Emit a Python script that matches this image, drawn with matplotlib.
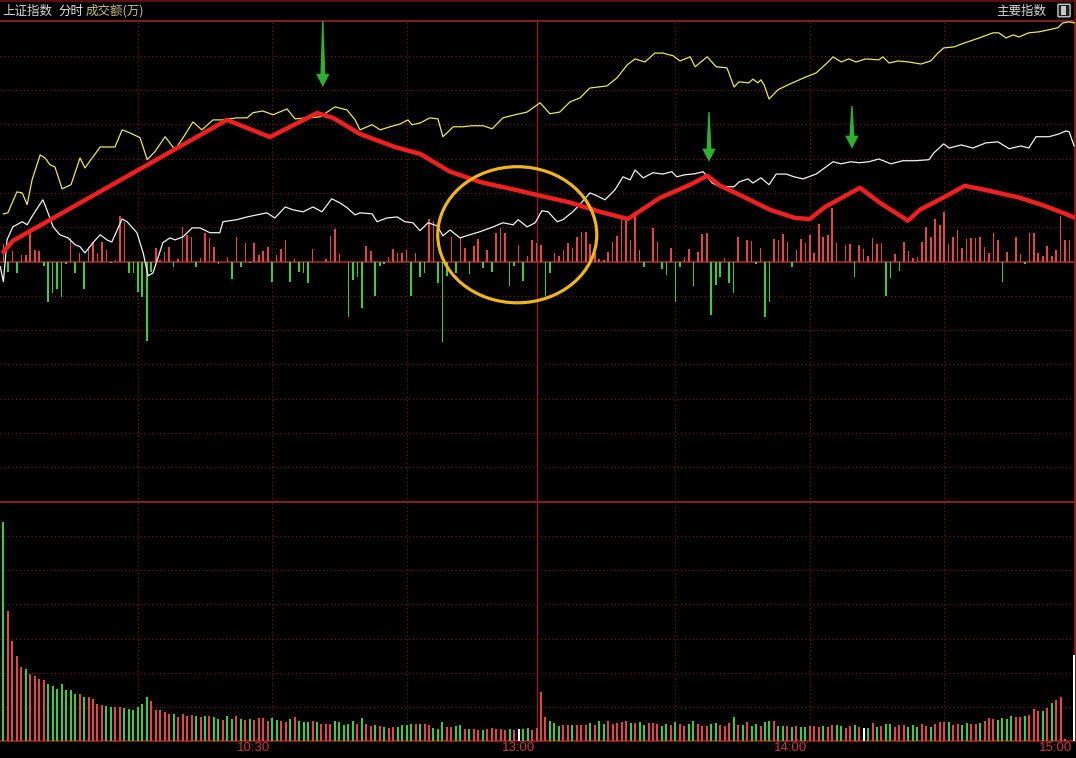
import numpy as np
import matplotlib.pyplot as plt
import matplotlib.patches as patches
from matplotlib.transforms import blended_transform_factory

W, H = 1076, 758

# one slot per trading minute, 0 = 09:30 ... 239 = 15:00
strength = [
    5.2, -3.0, 3.1, -3.3, 2.0, 2.0, 8.4, 3.4, 3.1, -1.3,
    -11.8, -9.1, -7.9, -10.3, -0.7, 6.9, -3.3, 2.5, -7.9, 4.3,
    5.7, 2.5, 5.7, 3.4, -0.4, 0.5, 13.3, 11.6, -3.3, -3.3,
    -8.8, -10.3, -23.1, -3.0, 4.0, 0.5, 2.8, 4.3, -1.5, 0.8,
    10.1, 7.8, 7.2, -1.5, 1.1, 8.4, 6.9, 4.3, -0.7, 0.0,
    1.4, -5.0, 7.2, -1.5, 5.5, -0.4, 5.5, 2.0, 3.1, 4.3,
    -5.9, 2.0, 3.7, 6.3, -5.9, 0.8, -3.0, -3.3, -6.2, 3.7,
    0.0, 0.0, 0.8, 7.5, 9.5, 2.2, 0.0, -16.1, -5.3, -4.5,
    -13.5, 4.6, 3.1, -10.0, -1.3, -0.7, 1.4, 3.7, 2.5, 2.5,
    3.4, -10.0, 2.5, -4.5, -3.3, 12.4, 11.9, -6.2, -23.4, -4.2,
    7.2, -3.3, 6.9, 4.0, -3.6, 4.6, 6.6, -1.8, 3.4, -3.0,
    8.4, 9.8, 8.4, -7.1, -1.3, 4.9, -5.6, 1.7, 6.3, 5.5,
    4.9, -10.0, -3.3, 2.5, 1.7, 3.4, 5.5, 4.0, 7.2, 8.7,
    8.7, 5.2, 2.5, 0.8, 0.5, 2.8, 5.7, 7.5, 12.4, 12.2,
    6.3, 14.5, 3.4, -1.5, 0.0, 9.8, 5.7, -2.1, -3.9, 4.0,
    -11.8, -1.5, 1.4, 3.7, -7.1, 2.8, 8.1, 8.4, -15.5, -6.8,
    -4.5, 1.1, -6.2, -9.1, 7.2, 0.0, 6.3, 6.0, -0.7, 4.0,
    -16.1, -11.8, 6.6, 6.3, 8.1, 5.7, -1.5, 3.4, 6.6, 5.5,
    7.8, 2.5, 11.0, 7.2, 7.8, 15.7, 5.5, 0.0, 4.9, 5.2,
    -4.5, 4.9, 3.7, 1.7, 6.9, 5.2, 5.5, -10.0, -4.8, 2.2,
    -2.7, 5.7, 3.1, 1.1, 1.4, 5.7, 10.1, 7.2, 12.4, 10.7,
    14.5, 5.2, 7.2, 9.2, 4.0, 6.6, 6.9, 6.9, 7.2, 4.3,
    2.5, 8.4, 6.3, -5.9, 2.8, 0.0, 7.2, 2.2, -0.7, 8.4,
    8.4, 2.5, 1.7, 4.6, 1.7, 3.4, 13.3, 6.3, 6.3, 0.0,
]

volume = [
    64.1, 38.1, 29.3, 25.0, 21.6, 21.0, 19.6, 19.0, 18.3, 18.0,
    16.7, 16.1, 15.2, 16.7, 14.9, 14.9, 13.7, 13.7, 12.8, 12.8,
    12.3, 10.8, 10.5, 10.2, 10.0, 9.9, 9.9, 9.6, 9.3, 9.0,
    9.9, 10.8, 12.8, 11.7, 9.0, 9.0, 8.4, 7.8, 7.8, 7.0,
    7.8, 7.3, 7.5, 7.3, 7.0, 7.3, 7.3, 7.0, 6.4, 6.1,
    7.3, 6.4, 7.3, 6.4, 6.1, 6.4, 6.1, 6.7, 6.7, 5.8,
    6.7, 6.1, 5.8, 5.5, 6.4, 7.0, 5.8, 5.5, 5.5, 5.8,
    5.5, 4.9, 4.9, 4.9, 5.8, 5.5, 4.6, 4.9, 5.8, 4.9,
    6.7, 4.9, 4.3, 4.6, 4.3, 4.0, 3.7, 4.0, 4.0, 4.6,
    4.6, 4.9, 4.9, 4.9, 4.9, 4.6, 3.7, 3.4, 5.5, 4.0,
    4.0, 4.3, 4.6, 3.4, 3.4, 3.4, 3.1, 3.1, 3.4, 3.7,
    3.4, 3.4, 3.1, 3.4, 3.1, 3.4, 3.4, 3.7, 3.1, 3.7,
    14.4, 7.0, 5.8, 5.2, 4.3, 4.6, 4.6, 4.6, 4.6, 4.6,
    4.6, 5.2, 4.6, 5.8, 4.9, 5.8, 4.9, 5.2, 5.5, 5.8,
    5.2, 5.2, 5.5, 4.6, 5.2, 5.2, 4.9, 4.3, 4.9, 4.6,
    5.5, 4.9, 4.3, 4.9, 5.8, 4.9, 4.3, 4.3, 4.9, 5.2,
    4.6, 4.3, 5.2, 7.0, 4.6, 4.6, 5.5, 4.3, 4.9, 4.3,
    5.5, 5.8, 5.8, 4.3, 4.3, 4.3, 4.0, 4.3, 4.0, 4.0,
    4.3, 4.3, 4.0, 4.3, 4.0, 4.6, 4.6, 4.3, 3.7, 4.3,
    4.6, 4.0, 3.7, 3.7, 5.2, 4.0, 4.3, 4.9, 4.9, 4.0,
    4.6, 4.6, 4.0, 4.6, 4.0, 4.9, 4.3, 4.0, 4.9, 5.5,
    5.5, 5.5, 4.6, 4.9, 4.6, 5.2, 4.9, 4.9, 5.2, 5.8,
    6.7, 6.4, 6.1, 6.7, 6.4, 7.3, 7.0, 7.0, 7.3, 7.5,
    9.3, 8.7, 8.7, 9.6, 11.1, 12.0, 12.8, 0.7, 0.0, 25.1,
]

# R = up minute, G = down minute, W = unchanged
vol_dir = ("GRRRRGRRRR" "GGGGGGGRGR" "RRRGGRRGGG" "GGGRRRRRGR"
           "RRRGRGRGGR" "GGRGRGRRRR" "GGRRGRGGGR" "GRRRGGGGGR"
           "GRRGRGRRGG" "GGRGRRGGGR" "RGGRGRRGRR" "RRRGRWGGRR"
           "RRGGGRRGRR" "RGRGGRRRRR" "GRGGRRRGGR" "GRRGGRRRGG"
           "RRRGRGRGGR" "GGRGGRGRGG" "RRRGRRGGRR" "GRWGRGRGGR"
           "RRGGGRRGRR" "RGRRGGRRGR" "RRGGGGRRGR" "RRGRGRRRRW")

yellow_t = [0, 1.0, 3.0, 4.2, 5.3, 6.4, 8.2, 9.3, 10.4, 11.5, 13.1, 15.1, 17.1, 18.2,
            21.6, 24.9, 26.5, 28.3, 30.5, 32.1, 33.8, 36.1, 38.3, 40.5, 42.3, 44.3,
            46.8, 48.8, 52.1, 54.4, 55.7, 57.9, 60.2, 63.3, 65.1, 67.8, 70.7, 74.0,
            76.7, 78.5, 79.6, 82.3, 84.1, 86.3, 88.5, 90.3, 91.2, 93.0, 95.2, 97.0,
            98.1, 99.0, 100.4, 102.6, 104.6, 107.1, 109.1, 111.5, 114.2, 116.9, 119.8,
            122.0, 124.2, 126.5, 128.7, 130.9, 134.7, 137.0, 139.2, 141.0, 143.2,
            145.4, 147.2, 149.5, 151.0, 153.3, 154.4, 157.1, 159.1, 161.5, 163.1,
            164.2, 166.4, 167.3, 168.4, 169.1, 169.8, 170.9, 172.9, 175.1, 178.7,
            181.4, 184.1, 185.2, 187.0, 188.7, 190.3, 192.5, 195.4, 196.3, 197.7,
            199.7, 202.1, 204.8, 207.0, 208.6, 209.9, 212.2, 214.4, 217.8, 220.9,
            222.2, 223.8, 225.4, 226.7, 228.9, 231.2, 233.4, 235.4, 236.5, 237.9, 239.0]
yellow_v = [13.9, 14.2, 20.3, 20.0, 16.6, 23.8, 31.1, 30.2, 28.2, 27.6, 21.2, 22.4, 30.2, 27.3,
            33.4, 33.4, 38.4, 37.5, 36.1, 29.7, 32.0, 36.4, 32.6, 36.9, 40.7, 38.4,
            41.3, 41.3, 41.9, 41.9, 43.4, 43.9, 42.8, 44.5, 41.6, 41.9, 42.2, 45.1,
            44.2, 41.3, 38.4, 39.9, 38.4, 39.3, 40.1, 41.3, 39.9, 40.4, 41.9, 41.6,
            36.4, 37.5, 39.3, 39.3, 39.6, 39.6, 38.7, 41.9, 42.8, 43.6, 46.3,
            43.1, 43.6, 46.6, 47.7, 50.6, 51.2, 53.6, 57.3, 59.1, 58.2,
            60.8, 60.8, 60.0, 58.5, 59.7, 56.8, 59.7, 56.8, 56.5, 50.9,
            52.4, 52.1, 53.2, 52.1, 53.0, 51.5, 47.4, 50.1, 51.5, 53.6,
            55.0, 58.2, 59.7, 58.2, 59.1, 58.2, 59.1, 58.8, 59.7, 57.9,
            58.5, 58.2, 57.6, 58.5, 60.8, 62.3, 62.6, 63.7, 65.2, 66.7,
            66.7, 65.2, 66.1, 65.5, 66.7, 67.0, 67.6, 68.2, 69.6, 69.9, 69.6]

white_t = [-0.7, 0, 0.8, 2.1, 4.2, 5.3, 6.6, 8.8, 9.7, 11.1, 12.6, 14.4, 16.0, 17.1, 18.2,
           20.0, 21.6, 23.1, 24.2, 26.5, 27.6, 29.8, 31.2, 32.3, 33.4, 35.6, 37.2, 38.3,
           40.1, 42.1, 43.9, 46.1, 48.3, 49.0, 52.1, 54.4, 56.6, 58.8, 60.6, 62.9, 64.6,
           66.9, 69.1, 71.1, 73.3, 75.1, 76.7, 78.5, 79.6, 82.3, 83.4, 85.6, 87.9, 89.6,
           91.4, 93.0, 94.8, 96.8, 98.1, 99.7, 101.9, 104.1, 106.4, 109.3, 111.5, 113.8,
           114.9, 116.9, 118.7, 120.2, 121.6, 123.6, 124.9, 127.1, 129.2, 130.9, 132.1,
           134.3, 136.5, 138.3, 139.9, 141.0, 142.8, 145.0, 147.2, 149.2, 150.3, 152.1,
           154.4, 156.2, 158.2, 160.0, 161.3, 163.1, 164.2, 166.2, 167.3, 169.1, 170.9,
           172.5, 174.7, 176.5, 178.5, 181.4, 183.6, 185.2, 187.0, 189.2, 191.0, 193.2,
           195.4, 198.1, 200.8, 203.7, 206.6, 207.7, 209.9, 211.1, 213.8, 216.4, 219.3,
           222.0, 224.5, 227.1, 228.9, 230.5, 233.4, 235.6, 237.2, 237.9, 239.0]
white_v = [-1.5, -5.9, 6.3, 10.1, 11.6, 10.7, 13.6, 18.0, 15.1, 10.1, 7.8, 6.9, 4.9, 4.3, 2.5,
           5.5, 7.8, 6.3, 5.7, 12.4, 11.6, 8.4, 2.5, -4.2, -3.3, 5.5, 6.9, 6.3,
           7.2, 9.8, 9.8, 8.4, 8.4, 11.6, 12.2, 13.0, 13.6, 14.2, 12.7, 15.9, 15.1,
           14.5, 15.9, 14.5, 18.3, 17.1, 15.7, 13.6, 14.2, 13.9, 11.6, 12.7, 13.0, 11.6,
           11.3, 9.0, 11.3, 10.4, 7.5, 9.2, 6.9, 7.8, 8.7, 10.1, 11.3, 10.7,
           12.2, 10.1, 11.3, 14.8, 14.5, 11.6, 12.2, 14.5, 17.4, 20.0, 19.4,
           18.0, 20.9, 24.7, 23.8, 26.7, 24.4, 25.9, 25.5, 26.2, 24.7, 25.3,
           25.6, 26.2, 22.9, 21.8, 21.8, 21.8, 23.2, 24.1, 22.9, 24.4, 22.4,
           25.5, 25.5, 24.7, 24.1, 25.5, 27.6, 29.1, 28.5, 29.1, 28.8, 29.1,
           29.9, 28.5, 29.4, 29.4, 29.7, 31.7, 34.3, 33.1, 34.0, 33.1, 34.6,
           34.9, 32.9, 33.7, 33.1, 36.4, 36.4, 37.2, 38.1, 37.8, 33.7]

# hand drawn markup on top of the chart
mark_t = [0, 2.1, 3.7, 49.9, 59.5, 70.0, 73.6, 79.6, 87.4, 93.0, 99.7, 106.4, 115.3,
          119.8, 126.5, 133.2, 139.4, 146.6, 153.3, 157.1, 160.0, 164.4, 171.1, 176.7,
          180.0, 183.4, 191.2, 195.7, 201.9, 204.6, 210.2, 214.6, 219.1, 226.9, 232.5,
          235.9, 239.3]
mark_v = [2.8, 6.0, 7.2, 41.3, 36.3, 43.3, 41.9, 37.2, 33.4, 31.4, 26.2, 23.2, 20.6,
          19.2, 17.2, 14.5, 12.4, 18.6, 22.4, 25.0, 22.1, 19.4, 15.1, 12.7,
          12.4, 15.9, 21.5, 17.1, 11.9, 15.1, 18.9, 22.1, 20.9, 18.6, 16.2,
          14.5, 12.7]
arrow_t = [71.3, 157.5, 189.4]
arrow_top = [70.5, 43.6, 45.4]
arrow_tip = [50.9, 29.1, 32.9]
ring_center = (114.7, 7.8)
ring_size = (35.5, 39.7)

grid_minutes = [30, 60, 90, 150, 180, 210]
noon = 119.1
time_pos = [60, 119.1, 180, 239]
time_labels = ['10:30', '13:00', '14:00', '15:00']

GRID = '#7c1a1a'
EDGE = '#8e2020'
UP = '#e04848'
DOWN = '#3ecc3e'

px_min = 4.48
x0 = -3.4 / px_min
x1 = (1075 - 3.4) / px_min

fig = plt.figure(figsize=(W / 100, H / 100), dpi=100, facecolor='black')
ax = fig.add_axes([0, (H - 502) / H, 1075 / W, (502 - 21) / H], facecolor='black')
axv = fig.add_axes([0, (H - 741) / H, 1075 / W, (741 - 502) / H], facecolor='black')

minutes = np.arange(len(strength))
s = np.array(strength)
ax.bar(minutes, s, width=0.36, color=np.where(s >= 0, UP, DOWN), linewidth=0, zorder=3)
ax.plot(yellow_t, yellow_v, color='#e8e85a', lw=0.9, zorder=4)
ax.plot(white_t, white_v, color='#f2f2f2', lw=0.9, zorder=4)
ax.plot(mark_t, mark_v, color='#ee2020', lw=3.2, solid_capstyle='round',
        solid_joinstyle='round', zorder=6)

for t, top, tip in zip(arrow_t, arrow_top, arrow_tip):
    head = tip + 3.8
    pts = [(t - 0.15, top), (t + 0.15, top), (t + 0.55, head), (t + 1.5, head),
           (t, tip), (t - 1.5, head), (t - 0.55, head)]
    ax.add_patch(patches.Polygon(pts, closed=True, fc='#2fae2f', ec='none', zorder=7))

ax.add_patch(patches.Ellipse(ring_center, ring_size[0], ring_size[1], fill=False,
                             ec='#f0b41e', lw=2.3, zorder=7))

ax.set_xlim(x0, x1)
ax.set_ylim(-70.15, 70.15)
for y in range(-60, 70, 10):
    if y != 0:
        ax.axhline(y, color=GRID, lw=0.8, ls=(0, (1, 2.5)), zorder=1)
ax.axhline(0, color=EDGE, lw=1.4, zorder=2)

cols = {'R': UP, 'G': DOWN, 'W': '#ffffff'}
axv.bar(minutes, volume, width=0.45, color=[cols[c] for c in vol_dir], linewidth=0, zorder=3)
axv.set_xlim(x0, x1)
axv.set_ylim(0, 70)
for y in range(10, 70, 10):
    axv.axhline(y, color=GRID, lw=0.8, ls=(0, (1, 2.5)), zorder=1)

for a in (ax, axv):
    for m in grid_minutes:
        a.axvline(m, color=GRID, lw=0.8, ls=(0, (1, 2.5)), zorder=1)
    a.axvline(noon, color=EDGE, lw=1.0, zorder=2)
    a.set_xticks([])
    a.set_yticks([])
    a.spines['left'].set_visible(False)
    for side in ('top', 'bottom', 'right'):
        a.spines[side].set_color(EDGE)
        a.spines[side].set_linewidth(1.3)

trans = blended_transform_factory(axv.transData, axv.transAxes)
for pos, lab in zip(time_pos, time_labels):
    axv.text(pos - 0.5, -0.03, lab, transform=trans, ha='right', va='center',
             color='#c83c3c', fontsize=9.5, family=['Liberation Sans', 'DejaVu Sans'])

# header strip
cjk = ['Noto Sans CJK SC', 'DejaVu Sans']
fig.text(2 / W, 1 - 11 / H, '上证指数', color='#d8d8d8', fontsize=9, family=cjk, va='center')
fig.text(58 / W, 1 - 11 / H, '分时', color='#e0e0e0', fontsize=9, family=cjk, va='center')
fig.text(86 / W, 1 - 11 / H, '成交额(万)', color='#c9c27a', fontsize=9, family=cjk, va='center')
fig.text(1046 / W, 1 - 11 / H, '主要指数', color='#d8d8d8', fontsize=9, family=cjk,
         va='center', ha='right')
fig.add_artist(patches.FancyBboxPatch((1059 / W, 1 - 16 / H), 10 / W, 11 / H,
                                      boxstyle='round,pad=0.001', fc='#202020', ec='#c8c8c8',
                                      lw=1.0, transform=fig.transFigure))
fig.add_artist(patches.Rectangle((1060.5 / W, 1 - 14.5 / H), 5 / W, 8 / H, fc='#c8c8c8',
                                 ec='none', transform=fig.transFigure))
fig.add_artist(plt.Line2D([0, 1075 / W], [1 - 0.8 / H, 1 - 0.8 / H], color='#6a1414',
                          lw=1.2, transform=fig.transFigure))
fig.add_artist(plt.Line2D([1075 / W, 1075 / W], [1 - 21 / H, 1], color='#6a1414',
                          lw=1.2, transform=fig.transFigure))

fig.savefig('out.png', dpi=100, facecolor='black')
